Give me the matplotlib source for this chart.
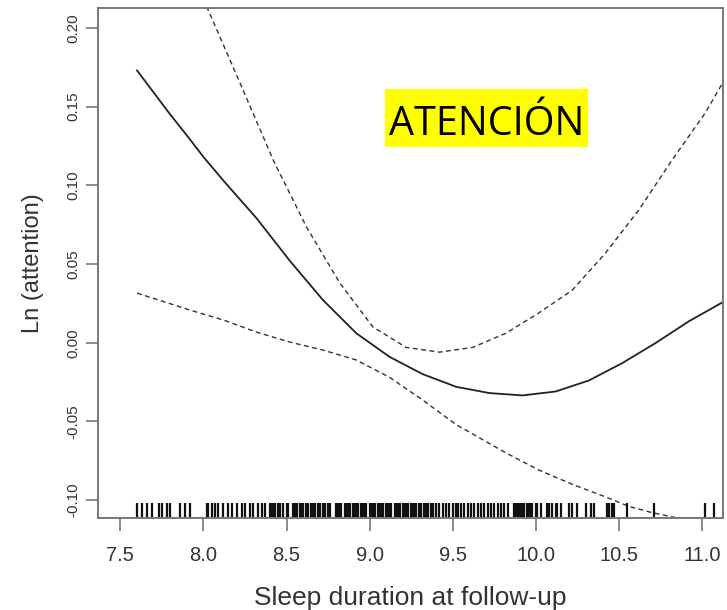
import matplotlib
matplotlib.use('Agg')
import matplotlib.pyplot as plt
from matplotlib.patches import Rectangle

plt.rcParams['font.family'] = ['Liberation Sans', 'DejaVu Sans']

# fitted curve (solid)
fit_x = [7.60, 7.70, 7.80, 7.92, 8.00, 8.12, 8.32, 8.52, 8.72, 8.92, 9.12,
         9.32, 9.52, 9.72, 9.92, 10.12, 10.32, 10.52, 10.72, 10.92, 11.13]
fit_y = [0.173, 0.159, 0.145, 0.129, 0.118, 0.103, 0.079, 0.052, 0.027, 0.006, -0.009,
         -0.020, -0.028, -0.032, -0.0335, -0.031, -0.024, -0.013, -0.0003, 0.0135, 0.026]

# upper confidence band (dashed)
upper_x = [7.95, 8.03, 8.22, 8.42, 8.62, 8.82, 9.02, 9.22, 9.42, 9.62, 9.82,
           10.02, 10.22, 10.42, 10.62, 10.82, 11.02, 11.13]
upper_y = [0.228, 0.211, 0.165, 0.116, 0.0735, 0.038, 0.010, -0.003, -0.006, -0.003, 0.006,
           0.019, 0.0334, 0.057, 0.0843, 0.116, 0.146, 0.166]

# lower confidence band (dashed)
lower_x = [7.60, 7.92, 8.12, 8.32, 8.52, 8.72, 8.92, 9.12, 9.32, 9.52, 9.72,
           9.82, 10.02, 10.22, 10.42, 10.56, 10.70, 10.88]
lower_y = [0.0315, 0.0207, 0.0144, 0.0067, 0.0004, -0.0047, -0.011, -0.022, -0.0365, -0.052, -0.064,
           -0.070, -0.081, -0.090, -0.098, -0.104, -0.108, -0.112]

# observed sleep durations (rug)
rug_sparse = [7.60, 7.63, 7.66, 7.69, 7.73, 7.75, 7.78, 7.80, 7.86, 7.89, 7.92]
rug_light = [8.02, 8.03, 8.05, 8.07, 8.09, 8.12, 8.15, 8.17, 8.20, 8.23, 8.25, 8.28,
             8.30, 8.33, 8.35, 8.37, 8.40]
rug_dense_a = [8.41, 8.42, 8.43, 8.45, 8.46, 8.48, 8.50, 8.51, 8.54, 8.55, 8.56, 8.58,
               8.59, 8.60, 8.62, 8.63, 8.65, 8.66, 8.67, 8.69, 8.70, 8.72, 8.73, 8.75, 8.76]
rug_dense_b = [8.80, 8.81, 8.82, 8.83, 8.85, 8.86, 8.87, 8.88, 8.90, 8.91, 8.92, 8.93,
               8.95, 8.96, 8.97, 8.98, 9.00, 9.01, 9.02, 9.03, 9.05, 9.06, 9.07, 9.08,
               9.10, 9.11, 9.12, 9.13, 9.15, 9.16, 9.17, 9.18, 9.20, 9.21, 9.22, 9.23,
               9.25, 9.26, 9.27, 9.28, 9.30, 9.31, 9.33, 9.34, 9.35, 9.37, 9.38, 9.40, 9.42]
rug_medium = [9.44, 9.46, 9.48, 9.50, 9.52, 9.53, 9.55, 9.57, 9.59, 9.61, 9.63, 9.65,
              9.67, 9.69, 9.71, 9.73, 9.75, 9.77, 9.79, 9.81, 9.83]
rug_tail = [9.87, 9.88, 9.89, 9.90, 9.91, 9.92, 9.93, 9.95, 9.96, 9.97, 9.98, 10.00,
            10.01, 10.03, 10.07, 10.08, 10.10, 10.12, 10.13, 10.15, 10.20, 10.22, 10.25,
            10.30, 10.33, 10.35, 10.43, 10.44, 10.46, 10.47, 10.55, 10.71, 11.02, 11.07]

xticks = [7.5, 8.0, 8.5, 9.0, 9.5, 10.0, 10.5, 11.0]
yticks = [-0.10, -0.05, 0.00, 0.05, 0.10, 0.15, 0.20]

fig = plt.figure(figsize=(7.27, 6.10), dpi=100)
ax = fig.add_axes([98 / 727, 92 / 610, 625 / 727, 510 / 610])

ax.plot(fit_x, fit_y, color='#222222', lw=1.3)
ax.plot(upper_x, upper_y, color='#333333', lw=1.0, ls=(0, (3.5, 2.5)))
ax.plot(lower_x, lower_y, color='#333333', lw=1.0, ls=(0, (3.5, 2.5)))

rug = rug_sparse + rug_light + rug_dense_a + rug_dense_b + rug_medium + rug_tail
ax.vlines(rug, 0, 0.03, transform=ax.get_xaxis_transform(), color='#111111', lw=1.6)

ax.set_xlim(7.365, 11.127)
ax.set_ylim(-0.1114, 0.2127)

ax.set_xticks(xticks)
ax.set_xticklabels([f'{v:.1f}' for v in xticks])
ax.set_yticks(yticks)
ax.set_yticklabels([f'{v:.2f}' for v in yticks], rotation=90, va='center')

for s in ax.spines.values():
    s.set_color('#777777')
    s.set_linewidth(1.4)
ax.tick_params(axis='both', direction='out', length=9, width=1.2, color='#777777',
               labelcolor='#333333')
ax.tick_params(axis='x', labelsize=14.5, pad=11)
ax.tick_params(axis='y', labelsize=11, pad=4)

ax.set_xlabel('Sleep duration at follow-up', fontsize=19, color='#333333', labelpad=15)
ax.set_ylabel('Ln (attention)', fontsize=17, color='#333333', labelpad=16)

# yellow highlight label
fig.patches.append(Rectangle((385 / 727, 1 - 147 / 610), 203 / 727, 58 / 610,
                             transform=fig.transFigure, facecolor='#ffff00',
                             edgecolor='none', zorder=5))
fig.text(486.5 / 727, 1 - 135 / 610, 'ATENCIÓN', family=['Open Sans', 'DejaVu Sans'],
         fontsize=28.5, color='black', ha='center', va='baseline', zorder=6)

fig.savefig('out.png', dpi=100)
